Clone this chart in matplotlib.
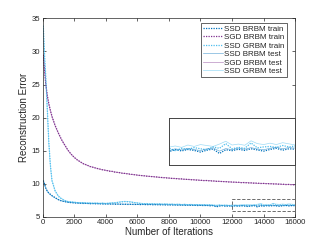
import numpy as np
import matplotlib
matplotlib.use("Agg")
import matplotlib.pyplot as plt
from matplotlib.patches import Rectangle

plt.rcParams["font.family"] = ["Liberation Sans", "DejaVu Sans"]

# iterations: dense at the start, then every 200
iters_head = [50, 100, 150, 200, 300, 400, 500, 600, 800, 1000, 1200, 1400, 1600, 1800, 2000]
iters = np.array(iters_head + list(range(2200, 16001, 200)))

ssd_brbm_train = [
    10.5, 10.2, 9.8, 9.4, 8.9, 8.6, 8.4, 8.2, 7.9, 7.6, 7.4, 7.3, 7.2, 7.15, 7.1,
    7.08, 7.05, 7.02, 7.04, 6.98, 7.00, 6.96, 6.98, 6.93, 6.95,
    6.92, 6.95, 6.90, 6.93, 6.88, 6.91, 6.87, 6.90, 6.86, 6.89,
    6.85, 6.88, 6.83, 6.86, 6.82, 6.84, 6.80, 6.83, 6.79, 6.81,
    6.78, 6.80, 6.76, 6.79, 6.74, 6.77, 6.73, 6.76, 6.71, 6.74,
    6.70, 6.73, 6.66, 6.70, 6.52, 6.62, 6.68, 6.60, 6.65, 6.58,
    6.66, 6.61, 6.67, 6.63, 6.56, 6.64, 6.69, 6.50, 6.66, 6.62,
    6.68, 6.63, 6.70, 6.65, 6.60, 6.67, 6.72, 6.64, 6.70, 6.68,
]
ssd_brbm_test = [
    10.4, 10.1, 9.7, 9.35, 8.85, 8.55, 8.35, 8.15, 7.85, 7.6, 7.42, 7.3, 7.22, 7.16, 7.12,
    7.10, 7.06, 7.07, 7.01, 7.03, 6.99, 7.02, 6.97, 6.99, 6.95,
    6.97, 6.93, 6.96, 6.91, 6.94, 6.90, 6.93, 6.89, 6.92, 6.87,
    6.90, 6.86, 6.89, 6.84, 6.87, 6.83, 6.86, 6.81, 6.84, 6.80,
    6.83, 6.78, 6.81, 6.77, 6.80, 6.75, 6.79, 6.74, 6.77, 6.72,
    6.76, 6.71, 6.74, 6.69, 6.60, 6.67, 6.71, 6.64, 6.69, 6.62,
    6.70, 6.65, 6.72, 6.67, 6.62, 6.70, 6.74, 6.60, 6.71, 6.66,
    6.73, 6.68, 6.75, 6.69, 6.66, 6.72, 6.77, 6.70, 6.75, 6.73,
]
sgd_brbm_train = [
    29.5, 28.0, 26.6, 25.2, 23.4, 22.1, 21.1, 20.2, 18.8, 17.7, 16.7, 15.9, 15.1, 14.5, 14.0,
    13.6, 13.3, 13.0, 12.85, 12.6, 12.5, 12.33, 12.25, 12.1, 12.05,
    11.9, 11.88, 11.74, 11.72, 11.6, 11.57, 11.48, 11.44, 11.36, 11.32,
    11.24, 11.22, 11.14, 11.12, 11.05, 11.04, 10.96, 10.94, 10.88, 10.87,
    10.8, 10.8, 10.72, 10.74, 10.66, 10.67, 10.6, 10.6, 10.54, 10.54,
    10.48, 10.49, 10.42, 10.44, 10.36, 10.38, 10.32, 10.32, 10.26, 10.27,
    10.22, 10.23, 10.16, 10.19, 10.12, 10.14, 10.08, 10.1, 10.04, 10.05,
    10.0, 10.02, 9.96, 9.98, 9.92, 9.94, 9.88, 9.9, 9.84, 9.86,
]
sgd_brbm_test = [
    29.4, 27.9, 26.5, 25.1, 23.3, 22.0, 21.0, 20.1, 18.75, 17.65, 16.65, 15.85, 15.1, 14.5, 14.02,
    13.62, 13.28, 13.03, 12.8, 12.64, 12.47, 12.37, 12.2, 12.14, 12.0,
    11.95, 11.84, 11.78, 11.68, 11.64, 11.53, 11.52, 11.4, 11.4, 11.28,
    11.28, 11.18, 11.18, 11.08, 11.09, 11.0, 11.0, 10.9, 10.92, 10.84,
    10.84, 10.76, 10.77, 10.7, 10.7, 10.63, 10.64, 10.57, 10.58, 10.51,
    10.52, 10.46, 10.47, 10.4, 10.41, 10.34, 10.35, 10.29, 10.3, 10.24,
    10.25, 10.19, 10.21, 10.14, 10.16, 10.1, 10.12, 10.06, 10.07, 10.02,
    10.03, 9.98, 10.0, 9.94, 9.96, 9.9, 9.92, 9.86, 9.88, 9.82,
]
ssd_grbm_train = [
    33.9, 31.0, 28.5, 26.5, 21.5, 16.3, 12.8, 10.5, 8.9, 8.1, 7.7, 7.45, 7.3, 7.25, 7.2,
    7.15, 7.10, 7.12, 7.06, 7.08, 7.04, 7.07, 7.02, 7.05, 7.00,
    7.05, 7.08, 7.12, 7.18, 7.25, 7.30, 7.28, 7.22, 7.15, 7.08,
    7.02, 6.98, 7.00, 6.94, 6.97, 6.92, 6.95, 6.90, 6.93, 6.88,
    6.90, 6.86, 6.89, 6.84, 6.87, 6.83, 6.86, 6.81, 6.84, 6.79,
    6.82, 6.78, 6.80, 6.75, 6.70, 6.76, 6.72, 6.75, 6.70, 6.73,
    6.62, 6.72, 6.68, 6.75, 6.70, 6.66, 6.78, 6.72, 6.92, 6.70,
    6.76, 6.72, 6.95, 6.74, 6.78, 6.80, 6.76, 6.84, 6.78, 6.82,
]
ssd_grbm_test = [
    33.6, 30.8, 28.3, 26.2, 21.2, 16.0, 12.6, 10.4, 8.95, 8.2, 7.8, 7.5, 7.35, 7.28, 7.22,
    7.18, 7.13, 7.16, 7.10, 7.12, 7.08, 7.11, 7.06, 7.09, 7.05,
    7.09, 7.13, 7.17, 7.23, 7.30, 7.36, 7.33, 7.27, 7.19, 7.12,
    7.06, 7.02, 7.04, 6.98, 7.01, 6.96, 6.99, 6.94, 6.97, 6.92,
    6.94, 6.90, 6.93, 6.88, 6.91, 6.87, 6.90, 6.85, 6.88, 6.83,
    6.86, 6.82, 6.84, 6.79, 6.76, 6.80, 6.76, 6.79, 6.74, 6.77,
    6.82, 6.76, 6.86, 6.80, 6.88, 6.84, 6.80, 6.90, 7.02, 6.86,
    6.90, 6.85, 7.04, 6.92, 6.88, 6.94, 6.88, 6.96, 6.91, 6.86,
]

c_ssd_brbm = "#0072BD"
c_sgd_brbm = "#7E2F8E"
c_ssd_grbm = "#4DBEEE"
axis_col = "#262626"

series = [
    ("SSD BRBM train", ssd_brbm_train, c_ssd_brbm, "train"),
    ("SGD BRBM train", sgd_brbm_train, c_sgd_brbm, "train"),
    ("SSD GRBM train", ssd_grbm_train, c_ssd_grbm, "train"),
    ("SSD BRBM test", ssd_brbm_test, c_ssd_brbm, "test"),
    ("SGD BRBM test", sgd_brbm_test, c_sgd_brbm, "test"),
    ("SSD GRBM test", ssd_grbm_test, c_ssd_grbm, "test"),
]


def draw_series(ax, with_labels=True):
    for name, vals, col, kind in series:
        lab = name if with_labels else None
        if kind == "train":
            ax.plot(iters, vals, color=col, lw=0.9, linestyle=(0, (1, 1)), label=lab)
        else:
            ax.plot(iters, vals, color=col, lw=0.5, alpha=0.55, label=lab)


fig = plt.figure(figsize=(3.27, 2.45), dpi=100)
ax = fig.add_axes([0.130, 0.115, 0.773, 0.810])
draw_series(ax)

ax.set_xlim(0, 16000)
ax.set_ylim(5, 35)
ax.set_xticks(range(0, 16001, 2000))
ax.set_yticks(range(5, 36, 5))
ax.tick_params(direction="in", length=2, width=0.5, labelsize=5.6,
               colors=axis_col, top=True, right=True, pad=1.5)
for sp in ax.spines.values():
    sp.set_color(axis_col)
    sp.set_linewidth(0.5)
ax.set_xlabel("Number of Iterations", fontsize=7, color=axis_col, labelpad=0.5)
ax.set_ylabel("Reconstruction Error", fontsize=7, color=axis_col, labelpad=2)

leg = ax.legend(loc="upper right", bbox_to_anchor=(0.966, 0.976), borderaxespad=0,
                fontsize=5.8, frameon=True, fancybox=False, framealpha=1,
                edgecolor=axis_col, handlelength=2.4, handletextpad=0.2,
                labelspacing=0.1, borderpad=0.25)
leg.get_frame().set_linewidth(0.5)
for t in leg.get_texts():
    t.set_color(axis_col)

# dashed region that the inset zooms into
ax.add_patch(Rectangle((12000, 5.9), 4000, 1.85, fill=False, ls=(0, (4, 2)),
                       lw=0.6, ec="#555555", zorder=5))

# inset
ins = ax.inset_axes([8000, 12.8, 8000, 7.1], transform=ax.transData)
draw_series(ins, with_labels=False)
ins.set_xlim(12000, 16000)
ins.set_ylim(6.0, 8.0)
ins.set_xticks([])
ins.set_yticks([])
for sp in ins.spines.values():
    sp.set_color("#444444")
    sp.set_linewidth(0.7)

fig.savefig("out.png", dpi=100)
